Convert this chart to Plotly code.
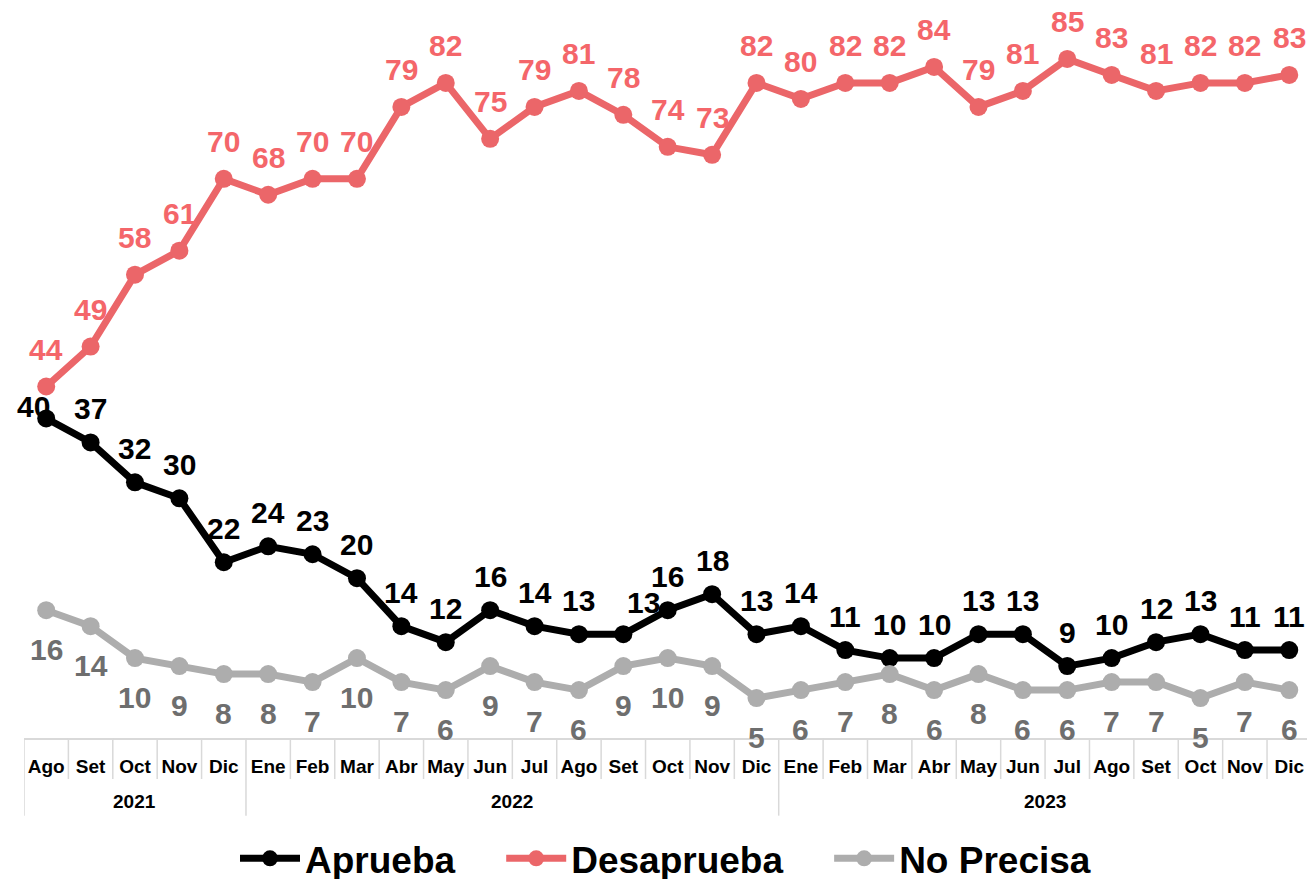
import plotly.graph_objects as go

months = ["Ago", "Set", "Oct", "Nov", "Dic",
          "Ene", "Feb", "Mar", "Abr", "May", "Jun", "Jul", "Ago", "Set", "Oct", "Nov", "Dic",
          "Ene", "Feb", "Mar", "Abr", "May", "Jun", "Jul", "Ago", "Set", "Oct", "Nov", "Dic"]
years = ["2021"] * 5 + ["2022"] * 12 + ["2023"] * 12

aprueba = [40, 37, 32, 30, 22,
           24, 23, 20, 14, 12, 16, 14, 13, 13, 16, 18, 13,
           14, 11, 10, 10, 13, 13, 9, 10, 12, 13, 11, 11]
desaprueba = [44, 49, 58, 61, 70,
              68, 70, 70, 79, 82, 75, 79, 81, 78, 74, 73, 82,
              80, 82, 82, 84, 79, 81, 85, 83, 81, 82, 82, 83]
no_precisa = [16, 14, 10, 9, 8,
              8, 7, 10, 7, 6, 9, 7, 6, 9, 10, 9, 5,
              6, 7, 8, 6, 8, 6, 6, 7, 7, 5, 7, 6]

FONT = "Liberation Sans, Arial, sans-serif"
x = list(range(len(months)))

series = [
    ("Aprueba", aprueba, "#000000", "#000000", 34),
    ("Desaprueba", desaprueba, "#EB6669", "#F4666A", 37),
    ("No Precisa", no_precisa, "#ADADAD", "#6E6E6E", -39),
]

fig = go.Figure()
annotations = []
for k, (name, vals, lc, tc, shift) in enumerate(series):
    pad = "\u00a0" * 4 if k < len(series) - 1 else ""
    fig.add_trace(go.Scatter(
        x=x, y=vals, name=name + pad, mode="lines+markers",
        line=dict(color=lc, width=7),
        marker=dict(color=lc, size=18),
        cliponaxis=False,
    ))
    for i, v in enumerate(vals):
        xs, ys = 0, shift
        if name == "Aprueba" and i == 0:
            xs, ys = -13, 12
        if name == "Aprueba" and i == 13:
            xs, ys = 20, 32
        annotations.append(dict(
            x=i, y=v, xref="x", yref="y", text=str(v), showarrow=False,
            xshift=xs, yshift=ys,
            font=dict(family=FONT, size=30, color=tc, weight="bold"),
        ))

# year labels
groups = []
for i, yv in enumerate(years):
    if not groups or groups[-1][0] != yv:
        groups.append([yv, i, i])
    else:
        groups[-1][2] = i
for yv, a, b in groups:
    annotations.append(dict(
        x=(a + b) / 2, y=-0.089, xref="x", yref="paper", text=yv, showarrow=False,
        font=dict(family=FONT, size=19, color="#000000", weight="bold"),
        yanchor="middle",
    ))

shapes = []
sep_col = "#D9D9D9"
for i in range(len(months) + 1):
    xb = i - 0.5
    is_group = i == 0 or i == len(months) or years[i] != years[i - 1]
    shapes.append(dict(
        type="line", xref="x", yref="paper", x0=xb, x1=xb,
        y0=0, y1=-0.108 if is_group else -0.057,
        line=dict(color=sep_col, width=1.5),
    ))

fig.update_layout(
    width=1307, height=890,
    margin=dict(l=24, r=0, t=19, b=142),
    paper_bgcolor="white", plot_bgcolor="white",
    showlegend=True,
    legend=dict(
        orientation="h", x=0.5, xanchor="center", y=-0.168, yanchor="middle",
        font=dict(family=FONT, size=37, color="#000000", weight="bold"),
        itemwidth=60, traceorder="normal",
    ),
    xaxis=dict(
        range=[-0.5, 28.4], tickmode="array", tickvals=x, ticktext=months,
        showgrid=False, zeroline=False, showline=True, linecolor=sep_col, linewidth=1.5,
        ticks="", ticklabelstandoff=10,
        tickfont=dict(family=FONT, size=19, color="#000000", weight="bold"),
    ),
    yaxis=dict(range=[0, 90], visible=False, showgrid=False, zeroline=False),
    annotations=annotations,
    shapes=shapes,
)

post = (
    "document.documentElement.style.margin='0px';"
    "document.body.style.margin='0px';"
    "document.documentElement.style.overflow='hidden';"
    "document.body.style.overflow='hidden';"
    "var d=document.getElementById('{plot_id}');"
    "d.style.position='fixed';d.style.left='0px';d.style.top='0px';"
)
fig.write_html("out.html", config={"displayModeBar": False}, post_script=post)
